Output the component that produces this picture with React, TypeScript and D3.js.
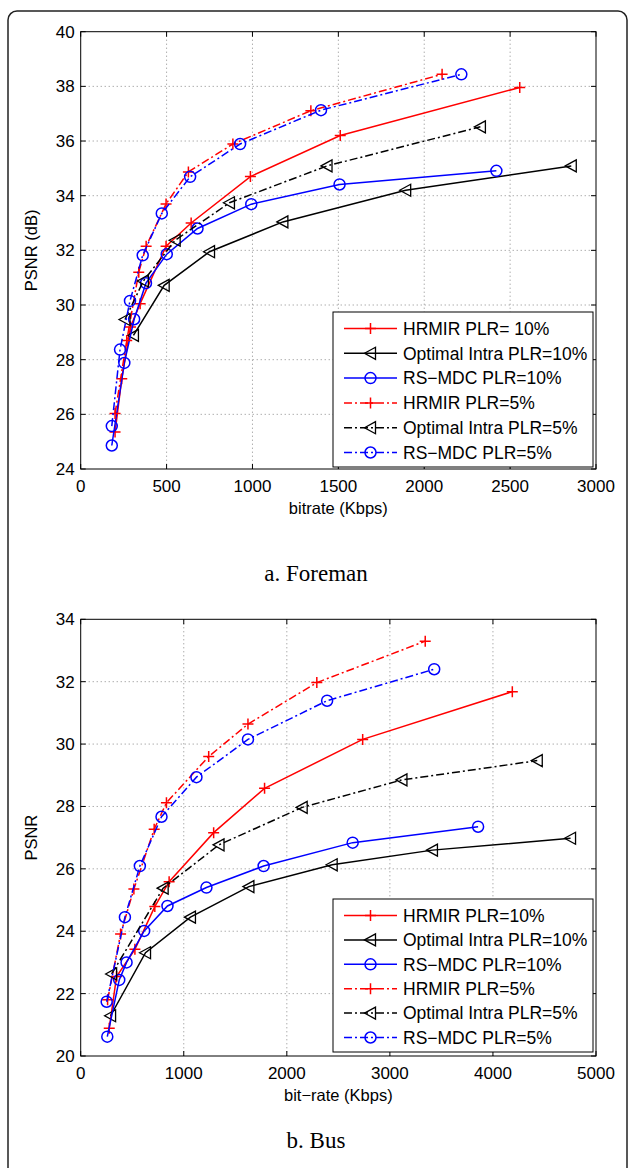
import React from "react";
import * as d3 from "d3";

// ---------- Data: Foreman ----------
const foremanHrmir10: [number, number][] = [[200, 25.35], [239, 27.3], [290, 29.2], [346, 30.05], [497, 32.15], [643, 33.0], [988, 34.7], [1511, 36.2], [2556, 37.96]];
const foremanIntra10: [number, number][] = [[307, 28.89], [486, 30.72], [750, 31.95], [1177, 33.04], [1892, 34.2], [2856, 35.09]];
const foremanRsmdc10: [number, number][] = [[181, 24.86], [254, 27.88], [311, 29.48], [380, 30.8], [501, 31.86], [680, 32.8], [993, 33.69], [1507, 34.41], [2420, 34.91]];
const foremanHrmir5: [number, number][] = [[200, 26.03], [268, 28.7], [338, 31.2], [381, 32.15], [497, 33.7], [627, 34.87], [886, 35.89], [1340, 37.11], [2104, 38.44]];
const foremanIntra5: [number, number][] = [[258, 29.47], [365, 30.88], [550, 32.37], [866, 33.74], [1434, 35.09], [2327, 36.52]];
const foremanRsmdc5: [number, number][] = [[181, 25.57], [229, 28.37], [287, 30.15], [361, 31.82], [472, 33.35], [637, 34.69], [928, 35.89], [1399, 37.13], [2216, 38.44]];

// ---------- Data: Bus ----------
const busHrmir10: [number, number][] = [[277, 20.89], [348, 22.55], [526, 23.42], [719, 24.79], [858, 25.59], [1290, 27.16], [1784, 28.58], [2736, 30.15], [4188, 31.68]];
const busIntra10: [number, number][] = [[290, 21.29], [629, 23.31], [1065, 24.45], [1632, 25.43], [2440, 26.13], [3413, 26.6], [4753, 26.98]];
const busRsmdc10: [number, number][] = [[258, 20.62], [374, 22.44], [445, 23.0], [616, 24.01], [842, 24.81], [1220, 25.4], [1775, 26.09], [2639, 26.84], [3856, 27.35]];
const busHrmir5: [number, number][] = [[261, 21.8], [387, 23.91], [516, 25.35], [713, 27.27], [832, 28.12], [1242, 29.6], [1623, 30.64], [2291, 31.97], [3343, 33.3]];
const busIntra5: [number, number][] = [[300, 22.63], [800, 25.38], [1342, 26.77], [2149, 27.97], [3117, 28.85], [4430, 29.47]];
const busRsmdc5: [number, number][] = [[252, 21.74], [429, 24.45], [574, 26.09], [784, 27.67], [1123, 28.94], [1623, 30.15], [2391, 31.39], [3430, 32.4]];

const foremanXTicks = [0, 500, 1000, 1500, 2000, 2500, 3000];
const foremanYTicks = [24, 26, 28, 30, 32, 34, 36, 38, 40];
const busXTicks = [0, 1000, 2000, 3000, 4000, 5000];
const busYTicks = [20, 22, 24, 26, 28, 30, 32, 34];

const foremanLabels = ["HRMIR PLR= 10%", "Optimal Intra PLR=10%", "RS\u2212MDC PLR=10%", "HRMIR PLR=5%", "Optimal Intra PLR=5%", "RS\u2212MDC PLR=5%"];
const busLabels = ["HRMIR PLR=10%", "Optimal Intra PLR=10%", "RS\u2212MDC PLR=10%", "HRMIR PLR=5%", "Optimal Intra PLR=5%", "RS\u2212MDC PLR=5%"];

type Marker = "plus" | "tri" | "circle";
interface Series { data: [number, number][]; color: string; dashed: boolean; marker: Marker; }

const styles: { color: string; dashed: boolean; marker: Marker }[] = [
  { color: "#ff0000", dashed: false, marker: "plus" },
  { color: "#000000", dashed: false, marker: "tri" },
  { color: "#0000ff", dashed: false, marker: "circle" },
  { color: "#ff0000", dashed: true, marker: "plus" },
  { color: "#000000", dashed: true, marker: "tri" },
  { color: "#0000ff", dashed: true, marker: "circle" },
];

const foremanSeries: Series[] = [foremanHrmir10, foremanIntra10, foremanRsmdc10, foremanHrmir5, foremanIntra5, foremanRsmdc5].map((d, i) => ({ data: d, ...styles[i] }));
const busSeries: Series[] = [busHrmir10, busIntra10, busRsmdc10, busHrmir5, busIntra5, busRsmdc5].map((d, i) => ({ data: d, ...styles[i] }));

const FONT = "'Liberation Sans', Arial, Helvetica, sans-serif";
const DASH = "8,3,2,3";

function MarkerShape({ type, x, y, color }: { type: Marker; x: number; y: number; color: string }) {
  if (type === "plus") {
    return <path d={`M${x - 5.5},${y}H${x + 5.5}M${x},${y - 5.5}V${y + 5.5}`} stroke={color} strokeWidth={1.5} fill="none" />;
  }
  if (type === "circle") {
    return <circle cx={x} cy={y} r={5.5} stroke={color} strokeWidth={1.5} fill="none" />;
  }
  return <path d={`M${x - 6},${y}L${x + 5},${y - 6}L${x + 5},${y + 6}Z`} stroke={color} strokeWidth={1.3} fill="none" />;
}

interface PanelProps {
  top: number; bottom: number; left: number; right: number;
  xDomain: [number, number]; yDomain: [number, number];
  xTicks: number[]; yTicks: number[];
  series: Series[]; labels: string[];
  xLabel: string; yLabel: string; caption: string;
  legendTop: number; legendBottom: number;
  xLabelY: number; captionY: number;
}

function Panel(p: PanelProps) {
  const x = d3.scaleLinear().domain(p.xDomain).range([p.left, p.right]);
  const y = d3.scaleLinear().domain(p.yDomain).range([p.bottom, p.top]);
  const line = d3.line<[number, number]>().x(d => x(d[0])).y(d => y(d[1]));
  const tick = 5;
  const lgLeft = 333, lgRight = 593;
  const nL = p.labels.length;
  const rowStep = (p.legendBottom - p.legendTop - 31) / (nL - 1);
  return (
    <g>
      {/* grid */}
      {p.xTicks.slice(1, -1).map(t => (
        <line key={"gx" + t} x1={x(t)} x2={x(t)} y1={p.top} y2={p.bottom} stroke="#8a8a8a" strokeWidth={1} strokeDasharray="1,3" />
      ))}
      {p.yTicks.slice(1, -1).map(t => (
        <line key={"gy" + t} x1={p.left} x2={p.right} y1={y(t)} y2={y(t)} stroke="#8a8a8a" strokeWidth={1} strokeDasharray="1,3" />
      ))}
      {/* ticks */}
      {p.xTicks.map(t => (
        <g key={"tx" + t}>
          <line x1={x(t)} x2={x(t)} y1={p.bottom} y2={p.bottom - tick} stroke="#000" />
          <line x1={x(t)} x2={x(t)} y1={p.top} y2={p.top + tick} stroke="#000" />
          <text x={x(t)} y={p.bottom + 23} textAnchor="middle" fontFamily={FONT} fontSize={17} fill="#000">{t}</text>
        </g>
      ))}
      {p.yTicks.map(t => (
        <g key={"ty" + t}>
          <line x1={p.left} x2={p.left + tick} y1={y(t)} y2={y(t)} stroke="#000" />
          <line x1={p.right} x2={p.right - tick} y1={y(t)} y2={y(t)} stroke="#000" />
          <text x={p.left - 6} y={y(t)} dy="0.35em" textAnchor="end" fontFamily={FONT} fontSize={17} fill="#000">{t}</text>
        </g>
      ))}
      {/* series */}
      {p.series.map((s, i) => (
        <g key={"s" + i}>
          <path d={line(s.data) || ""} fill="none" stroke={s.color} strokeWidth={1.5} strokeDasharray={s.dashed ? DASH : undefined} />
          {s.data.map((d, j) => <MarkerShape key={j} type={s.marker} x={x(d[0])} y={y(d[1])} color={s.color} />)}
        </g>
      ))}
      {/* box */}
      <rect x={p.left} y={p.top} width={p.right - p.left} height={p.bottom - p.top} fill="none" stroke="#000" strokeWidth={1} />
      {/* legend */}
      <rect x={lgLeft} y={p.legendTop} width={lgRight - lgLeft} height={p.legendBottom - p.legendTop} fill="#fff" stroke="#000" strokeWidth={1} />
      {p.labels.map((lab, i) => {
        const ly = p.legendTop + 16.5 + i * rowStep;
        const s = p.series[i];
        return (
          <g key={"lg" + i}>
            <line x1={344} x2={397} y1={ly} y2={ly} stroke={s.color} strokeWidth={1.5} strokeDasharray={s.dashed ? DASH : undefined} />
            <MarkerShape type={s.marker} x={370.5} y={ly} color={s.color} />
            <text x={403} y={ly} dy="0.36em" fontFamily={FONT} fontSize={17.5} fill="#000">{lab}</text>
          </g>
        );
      })}
      {/* labels */}
      <text x={(p.left + p.right) / 2} y={p.xLabelY} textAnchor="middle" fontFamily={FONT} fontSize={16.5} fill="#000">{p.xLabel}</text>
      <text transform={`translate(37,${(p.top + p.bottom) / 2}) rotate(-90)`} textAnchor="middle" fontFamily={FONT} fontSize={16.5} fill="#000">{p.yLabel}</text>
      <text x={316} y={p.captionY} textAnchor="middle" fontFamily="'Liberation Serif', 'Times New Roman', serif" fontSize={23} fill="#000">{p.caption}</text>
    </g>
  );
}

export default function App() {
  return (
    <svg width={632} height={1168} style={{ position: "absolute", left: 0, top: 0, background: "#fff" }}>
      <rect x={0} y={0} width={632} height={1168} fill="#fff" />
      <rect x={8} y={11} width={619} height={1200} rx={9} fill="none" stroke="#222" strokeWidth={1.5} />
      <Panel top={31.7} bottom={469} left={80.7} right={596}
        xDomain={[0, 3000]} yDomain={[24, 40]} xTicks={foremanXTicks} yTicks={foremanYTicks}
        series={foremanSeries} labels={foremanLabels}
        xLabel="bitrate (Kbps)" yLabel="PSNR (dB)" caption="a. Foreman"
        legendTop={312} legendBottom={467} xLabelY={514} captionY={581} />
      <Panel top={619.3} bottom={1056} left={80.7} right={596}
        xDomain={[0, 5000]} yDomain={[20, 34]} xTicks={busXTicks} yTicks={busYTicks}
        series={busSeries} labels={busLabels}
        xLabel={"bit\u2212rate (Kbps)"} yLabel="PSNR" caption="b. Bus"
        legendTop={899} legendBottom={1052} xLabelY={1101} captionY={1148} />
    </svg>
  );
}
